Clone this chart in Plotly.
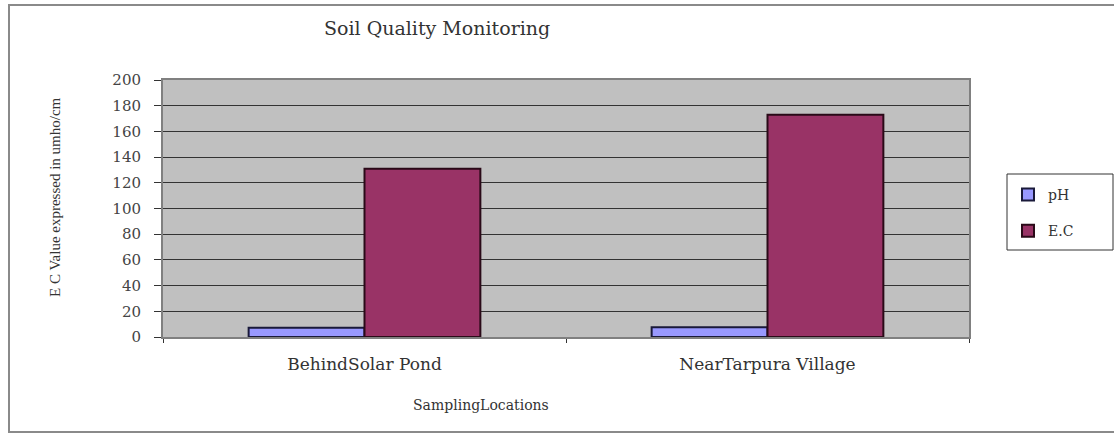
import plotly.graph_objects as go

# Sampling sites and measured soil parameters
locations = ["BehindSolar Pond", "NearTarpura Village"]
ph_values = [7.2, 7.6]
ec_values = [131, 173]
y_ticks = [0, 20, 40, 60, 80, 100, 120, 140, 160, 180, 200]

serif = "Liberation Serif, Times New Roman, serif"
wide_serif = "DejaVu Serif, serif"

# plot area in pixels: x 163..969, y 80..337
PL, PR, PT, PB = 163, 969, 80, 337


def px_x(x):
    return (x - PL) / (PR - PL)


def px_y(y):
    return (PB - y) / (PB - PT)


fig = go.Figure()
fig.add_trace(go.Bar(
    x=locations, y=ph_values, name="pH", legendgroup="ph",
    marker=dict(color="#9999FF", line=dict(color="#1a1a3a", width=2)),
))
fig.add_trace(go.Bar(
    x=locations, y=ec_values, name="E.C", legendgroup="ec",
    marker=dict(color="#993366", line=dict(color="#2a0a18", width=2)),
))

fig.update_layout(
    width=1114, height=443,
    margin=dict(l=PL, r=1114 - PR, t=PT, b=443 - PB),
    paper_bgcolor="white",
    plot_bgcolor="#C0C0C0",
    barmode="group",
    bargap=0.425,
    bargroupgap=0,
    font=dict(family=wide_serif, size=13, color="#333333"),
    showlegend=True,
    legend=dict(
        x=px_x(1008), y=px_y(179), xanchor="left", yanchor="top",
        bgcolor="rgba(0,0,0,0)", borderwidth=0,
        font=dict(family=wide_serif, size=14, color="#333333"),
        traceorder="grouped", tracegroupgap=15,
        itemwidth=30,
    ),
    xaxis=dict(
        showgrid=False, ticks="outside", tickson="boundaries",
        ticklen=4, tickcolor="#333333",
        showline=True, linecolor="#808080", linewidth=2, mirror=True,
        tickfont=dict(family=wide_serif, size=17, color="#333333"),
        ticklabelstandoff=11,
    ),
    yaxis=dict(
        range=[0, 200], tickvals=y_ticks,
        showgrid=True, gridcolor="#333333", gridwidth=1,
        ticks="outside", ticklen=7, tickcolor="#333333",
        showline=True, linecolor="#808080", linewidth=2, mirror=True,
        zeroline=True, zerolinecolor="#333333", zerolinewidth=1,
        tickfont=dict(family=wide_serif, size=15, color="#444444"),
        ticklabelstandoff=10,
    ),
    annotations=[
        dict(text="Soil Quality Monitoring", xref="paper", yref="paper",
             x=px_x(437), y=px_y(28), xanchor="center", yanchor="middle",
             showarrow=False,
             font=dict(family=wide_serif, size=19, color="#333333")),
        dict(text="SamplingLocations", xref="paper", yref="paper",
             x=px_x(481), y=px_y(405), xanchor="center", yanchor="middle",
             showarrow=False,
             font=dict(family=wide_serif, size=14, color="#333333")),
        dict(text="E C Value expressed in umho/cm", xref="paper", yref="paper",
             x=px_x(55), y=px_y(197), xanchor="center", yanchor="middle",
             textangle=-90, showarrow=False,
             font=dict(family=serif, size=15, color="#333333")),
    ],
    shapes=[
        # outer chart frame
        dict(type="rect", xref="paper", yref="paper",
             x0=px_x(9), x1=px_x(1125), y0=px_y(432), y1=px_y(5),
             line=dict(color="#8a8a8a", width=2), layer="below"),
        # legend frame
        dict(type="rect", xref="paper", yref="paper",
             x0=px_x(1007), x1=px_x(1113), y0=px_y(250), y1=px_y(174),
             line=dict(color="#333333", width=1), fillcolor="white",
             layer="below"),
    ],
)

fig.write_html("out.html")
